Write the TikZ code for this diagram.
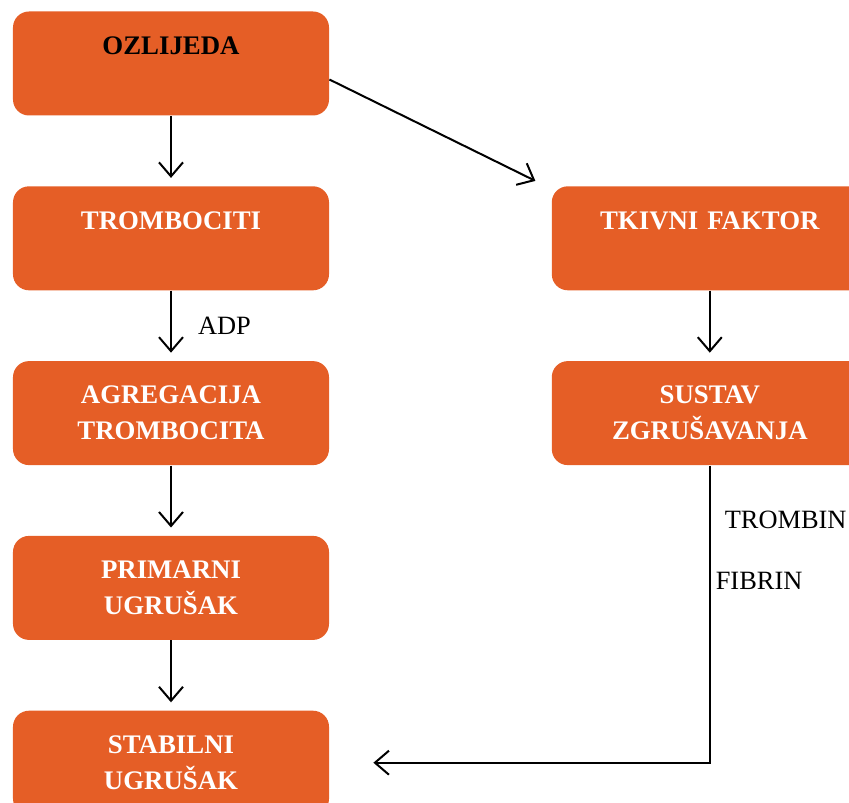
\documentclass[tikz,border=0pt]{standalone}
\usepackage{fontspec}
\setmainfont{Liberation Serif}
\usepackage{xcolor}
\usepackage{tikz}
\usetikzlibrary{arrows.meta,positioning}
\definecolor{stagecolor}{RGB}{229,94,38}

\begin{document}
\begin{tikzpicture}[
    node distance=35pt and 111pt,
    stage/.style={rectangle, rounded corners=8pt, fill=stagecolor, text=white, text width=150pt, align=center, minimum width=158pt, minimum height=52pt, inner sep=0pt, font=\fontsize{13.4pt}{18pt}\selectfont\bfseries},
    arrow/.style={-{Straight Barb[length=7pt,width=12pt]}, line width=1pt, shorten >=4pt},
    lbl/.style={font=\fontsize{13.2pt}{18pt}\selectfont, inner sep=0pt}
]
\useasboundingbox (-85.5pt,-369.25pt) rectangle (339pt,31.75pt);

% Platelet side
\node[stage, text=black] (ozlijeda) {OZLIJEDA\\\mbox{}};
\node[stage, below=of ozlijeda] (trombociti) {TROMBOCITI\\\mbox{}};
\node[stage, below=of trombociti] (agregacija) {AGREGACIJA\\TROMBOCITA};
\node[stage, below=of agregacija] (primarni) {PRIMARNI\\UGRUŠAK};
\node[stage, below=of primarni] (stabilni) {STABILNI\\UGRUŠAK};

% Coagulation side
\node[stage, right=of trombociti] (tkivni) {TKIVNI FAKTOR\\\mbox{}};
\node[stage, below=of tkivni] (sustav) {SUSTAV\\ZGRUŠAVANJA};

% Free ends
\coordinate[above left=2.5pt and 8pt of tkivni.north west] (tkivniin);
\coordinate[right=22pt of stabilni.east] (stabilniin);

% Arrows
\draw[arrow] (ozlijeda) -- (trombociti);
\draw[arrow] (trombociti) -- node[lbl, right=13pt] (adp) {ADP} (agregacija);
\draw[arrow] (agregacija) -- (primarni);
\draw[arrow] (primarni) -- (stabilni);

\draw[arrow, shorten >=0pt] ([yshift=-8pt]ozlijeda.east) -- (tkivniin);
\draw[arrow] (tkivni) -- (sustav);
\draw[arrow, shorten >=0pt] (sustav.south) |- node[lbl, pos=0.091, anchor=west, xshift=7pt] (trombin) {TROMBIN} node[lbl, pos=0.194, anchor=west, xshift=2.5pt] (fibrin) {FIBRIN} (stabilniin);

\end{tikzpicture}
\end{document}
